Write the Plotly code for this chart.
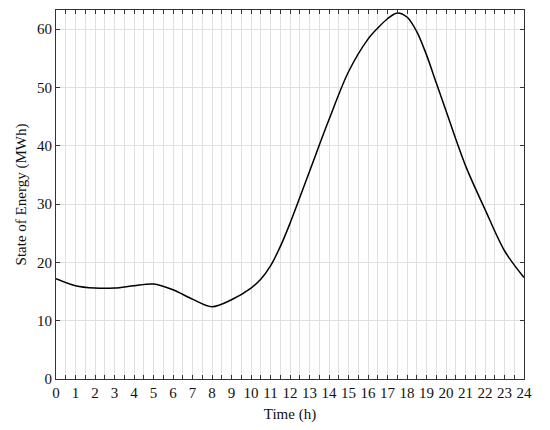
import plotly.graph_objects as go

hours = [0, 1, 2, 3, 4, 5, 6, 7, 8, 9, 10, 10.5, 11, 11.5, 12, 13, 14, 15, 16, 16.5, 17, 17.5, 18, 18.5, 19, 19.5, 20, 21, 22, 23, 24]
energy = [17.2, 16.0, 15.6, 15.6, 16.0, 16.3, 15.3, 13.7, 12.4, 13.6, 15.6, 17.1, 19.4, 22.7, 26.7, 35.6, 44.5, 52.7, 58.3, 60.2, 61.8, 62.8, 62.1, 59.6, 55.6, 50.8, 46.0, 36.6, 29.1, 22.0, 17.4]
x_ticks = list(range(0, 25))
y_ticks = [0, 10, 20, 30, 40, 50, 60]

FONT = "Liberation Serif"

fig = go.Figure()
fig.add_trace(go.Scatter(
    x=hours, y=energy, mode="lines",
    line=dict(color="black", width=1.5, shape="spline", smoothing=0.9),
    showlegend=False, hoverinfo="skip",
))

axis_common = dict(
    showline=True, linecolor="#333333", linewidth=1, mirror="allticks",
    ticks="inside", ticklen=4, tickcolor="#333333", tickwidth=1,
    showgrid=True, gridcolor="#e0e0e0", gridwidth=1, zeroline=False,
    tickfont=dict(family=FONT, size=15, color="#111111"),
    automargin=False,
)

fig.update_xaxes(
    **axis_common,
    range=[0, 24], tickmode="array", tickvals=x_ticks,
    minor=dict(dtick=0.5, tick0=0, ticks="inside", ticklen=4, tickcolor="#333333",
               showgrid=True, gridcolor="#e0e0e0", gridwidth=1),
    title=dict(text="Time (h)", font=dict(family=FONT, size=15, color="#111111"), standoff=8),
)
fig.update_yaxes(
    **axis_common,
    range=[0, 63.3], tickmode="array", tickvals=y_ticks,
    title=dict(text="State of Energy (MWh)", font=dict(family=FONT, size=15, color="#111111"), standoff=6),
)

fig.update_layout(
    width=542, height=422,
    margin=dict(l=48, r=26, t=2, b=51),
    plot_bgcolor="white", paper_bgcolor="white",
)

fig.write_html("out.html")
